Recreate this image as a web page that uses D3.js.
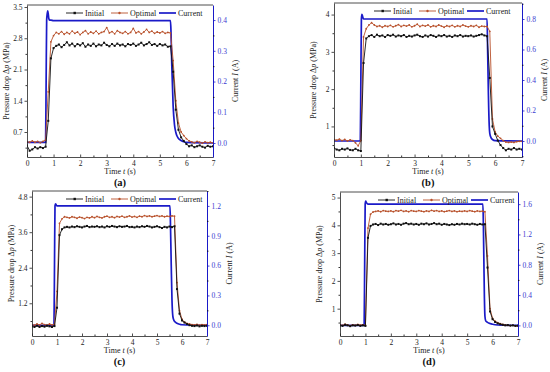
<!DOCTYPE html>
<html><head><meta charset="utf-8">
<script src="https://cdn.jsdelivr.net/npm/d3@7"></script>
<style>html,body{margin:0;padding:0;background:#fff;}svg{display:block;}</style>
</head><body>
<svg id="chart" width="550" height="372"></svg>
<script>
// ---------------- DATA ----------------
const time = [0,0.1,0.2,0.3,0.4,0.5,0.6,0.7,0.8,0.9,1.0,1.1,1.2,1.3,1.4,1.5,1.6,1.7,1.8,1.9,2.0,2.1,2.2,2.3,2.4,2.5,2.6,2.7,2.8,2.9,3.0,3.1,3.2,3.3,3.4,3.5,3.6,3.7,3.8,3.9,4.0,4.1,4.2,4.3,4.4,4.5,4.6,4.7,4.8,4.9,5.0,5.1,5.2,5.3,5.4,5.5,5.6,5.7,5.8,5.9,6.0,6.1,6.2,6.3,6.4,6.5,6.6,6.7,6.8,6.9,7.0];

const initialA = [0.40,0.28,0.31,0.36,0.33,0.36,0.34,0.37,0.95,2.35,
  2.58,2.63,2.66,2.60,2.65,2.71,2.64,2.68,2.62,2.67,
  2.64,2.69,2.61,2.66,2.63,2.68,2.62,2.66,2.64,2.70,
  2.65,2.62,2.67,2.63,2.68,2.64,2.66,2.62,2.67,2.65,
  2.68,2.63,2.66,2.70,2.64,2.67,2.71,2.65,2.67,2.63,
  2.67,2.64,2.66,2.61,2.62,2.05,1.20,0.75,0.58,0.50,
  0.43,0.38,0.40,0.36,0.38,0.40,0.37,0.35,0.39,0.37,0.38];
const optimalA = [0.48,0.47,0.50,0.47,0.49,0.46,0.49,0.52,1.60,2.72,
  2.86,2.93,2.90,2.95,2.89,2.93,2.90,2.96,2.91,2.94,
  2.88,2.93,2.97,2.90,2.94,2.91,2.96,2.90,2.93,2.95,
  3.04,2.92,2.95,2.90,2.97,2.93,2.91,2.95,2.90,2.93,
  3.02,2.92,2.95,2.90,2.94,3.00,2.93,2.96,2.91,2.94,
  2.92,2.95,2.91,2.93,2.92,2.30,1.40,0.90,0.70,0.62,
  0.55,0.50,0.48,0.46,0.49,0.47,0.45,0.48,0.46,0.47,0.45];
const currentTimeA = [0,0.7,0.72,0.74,0.76,0.78,0.8,0.82,0.85,0.9,1.0,5.4,5.42,5.45,5.5,5.55,5.6,5.65,5.7,5.8,5.9,6.0,7.0];
const currentA = [0.002,0.002,0.2,0.4,0.42,0.43,0.42,0.405,0.4,0.4,0.398,0.398,0.36,0.25,0.12,0.06,0.035,0.022,0.015,0.008,0.004,0.002,0.0];

const initialB = [0.42,0.38,0.36,0.40,0.38,0.41,0.37,0.36,0.40,0.36,
  0.34,2.70,3.36,3.42,3.45,3.40,3.46,3.42,3.44,3.40,
  3.45,3.43,3.46,3.41,3.44,3.42,3.45,3.40,3.43,3.41,
  3.44,3.46,3.42,3.40,3.44,3.41,3.45,3.43,3.40,3.44,
  3.42,3.45,3.41,3.43,3.40,3.44,3.42,3.45,3.41,3.43,
  3.42,3.44,3.41,3.43,3.45,3.47,3.44,3.42,2.30,1.00,
  0.80,0.62,0.50,0.42,0.36,0.40,0.38,0.42,0.38,0.40,0.38];
const optimalB = [0.65,0.63,0.66,0.62,0.65,0.61,0.64,0.62,0.56,0.48,
  0.62,3.40,3.62,3.72,3.78,3.72,3.68,3.70,3.66,3.70,
  3.68,3.71,3.67,3.70,3.73,3.68,3.71,3.69,3.72,3.67,
  3.70,3.74,3.68,3.71,3.69,3.72,3.67,3.70,3.68,3.72,
  3.69,3.66,3.70,3.68,3.71,3.67,3.70,3.68,3.72,3.69,
  3.67,3.70,3.68,3.71,3.66,3.69,3.68,3.68,3.55,1.20,
  0.85,0.74,0.68,0.62,0.58,0.57,0.58,0.57,0.59,0.60,0.60];
const currentTimeB = [0,0.98,1.0,1.02,1.04,1.06,1.1,1.2,5.7,5.72,5.75,5.78,5.8,5.85,5.9,6.0,7.0];
const currentB = [0,0,0.4,0.8,0.83,0.82,0.8,0.8,0.8,0.6,0.3,0.1,0.05,0.02,0.01,0.003,0];

const initialC = [0.42,0.40,0.44,0.40,0.43,0.41,0.44,0.42,0.40,0.43,
  1.05,3.50,3.70,3.76,3.78,3.76,3.79,3.77,3.80,3.78,
  3.76,3.79,3.81,3.77,3.79,3.78,3.80,3.77,3.79,3.76,
  3.80,3.78,3.81,3.79,3.77,3.80,3.78,3.79,3.81,3.77,
  3.78,3.76,3.79,3.77,3.80,3.78,3.81,3.79,3.76,3.78,
  3.80,3.77,3.74,3.78,3.76,3.79,3.77,3.80,1.68,0.85,
  0.62,0.55,0.50,0.46,0.44,0.43,0.45,0.42,0.44,0.43,0.44];
const optimalC = [0.48,0.46,0.50,0.47,0.52,0.48,0.46,0.50,0.47,0.49,
  1.60,3.90,4.05,4.12,4.10,4.08,4.12,4.10,4.07,4.11,
  4.09,4.06,4.10,4.08,4.12,4.09,4.13,4.10,4.08,4.12,
  4.14,4.10,4.12,4.09,4.13,4.11,4.14,4.10,4.12,4.15,
  4.11,4.13,4.10,4.14,4.12,4.16,4.13,4.15,4.12,4.14,
  4.16,4.13,4.15,4.12,4.14,4.13,4.15,4.14,1.90,0.95,
  0.66,0.56,0.52,0.50,0.48,0.47,0.49,0.46,0.48,0.47,0.48];
const currentTimeC = [0,0.88,0.9,0.92,0.94,0.97,1.0,5.52,5.54,5.57,5.6,5.63,5.66,5.7,5.8,5.9,6.0,7.0];
const currentC = [0,0,0.6,1.2,1.22,1.21,1.2,1.2,1.0,0.6,0.25,0.1,0.06,0.04,0.02,0.01,0.005,0];

const initialD = [0.40,0.38,0.42,0.40,0.37,0.40,0.39,0.41,0.38,0.40,
  0.38,3.55,3.98,4.03,4.05,4.01,4.06,4.03,4.05,4.02,
  4.04,4.07,4.03,4.05,4.02,4.06,4.08,4.04,4.06,4.03,
  4.05,4.02,4.06,4.04,4.07,4.03,4.05,4.08,4.04,4.06,
  4.02,4.05,4.03,4.01,4.04,4.02,4.05,4.03,4.06,4.04,
  4.05,4.03,4.06,4.04,4.02,4.05,4.03,4.04,2.48,0.90,
  0.62,0.52,0.47,0.44,0.42,0.40,0.41,0.39,0.40,0.38,0.39];
const optimalD = [0.42,0.40,0.44,0.41,0.39,0.42,0.40,0.43,0.41,0.42,
  0.40,3.90,4.40,4.48,4.50,4.52,4.49,4.53,4.51,4.50,
  4.52,4.49,4.53,4.51,4.54,4.50,4.52,4.49,4.53,4.51,
  4.50,4.53,4.51,4.49,4.52,4.50,4.54,4.51,4.53,4.50,
  4.52,4.49,4.51,4.53,4.50,4.52,4.49,4.51,4.50,4.52,
  4.50,4.53,4.51,4.49,4.52,4.50,4.51,4.49,2.90,1.00,
  0.65,0.55,0.50,0.46,0.43,0.41,0.40,0.39,0.40,0.38,0.38];
const currentTimeD = [0,0.95,0.97,0.99,1.01,1.04,1.1,5.62,5.64,5.66,5.68,5.7,5.73,5.8,5.9,6.0,6.2,7.0];
const currentD = [0,0,0.8,1.6,1.64,1.62,1.6,1.6,1.3,0.8,0.35,0.12,0.06,0.04,0.025,0.015,0.005,0];

const xTicks = [0,1,2,3,4,5,6,7];
const leftTicksA = [0.7,1.4,2.1,2.8,3.5];
const leftTicksB = [1,2,3,4];
const leftTicksC = [1.2,2.4,3.6,4.8];
const leftTicksD = [1,2,3,4,5];
const rightTicksA = [0.0,0.1,0.2,0.3,0.4];
const rightTicksB = [0.0,0.2,0.4,0.6,0.8];
const rightTicksC = [0.0,0.3,0.6,0.9,1.2];
const rightTicksD = [0.0,0.4,0.8,1.2,1.6];
const seriesNames = ["Initial","Optimal","Current"];
const panelLabels = ["(a)","(b)","(c)","(d)"];

// ---------------- LAYOUT ----------------
const FONT = "'Liberation Serif','Times New Roman',serif";
const C_INIT = "#111111", C_OPT = "#b8502a", C_CUR = "#1a1ac8", C_AX2 = "#3b3bd0";

const panels = [
  {label:panelLabels[0], left:27, right:213, top:5, bottom:157, yL:[0.14,3.545], yR:[-0.0455,0.449],
   lt:leftTicksA, lf:".1f", rt:rightTicksA, rf:".1f", init:initialA, opt:optimalA, ct:currentTimeA, cv:currentA, legX:66},
  {label:panelLabels[1], left:334, right:522, top:3, bottom:157, yL:[0.18,4.31], yR:[-0.105,0.905],
   lt:leftTicksB, lf:"d", rt:rightTicksB, rf:".1f", init:initialB, opt:optimalB, ct:currentTimeB, cv:currentB, legX:374},
  {label:panelLabels[2], left:32, right:207, top:191, bottom:336, yL:[0.095,4.99], yR:[-0.108,1.35],
   lt:leftTicksC, lf:".1f", rt:rightTicksC, rf:".1f", init:initialC, opt:optimalC, ct:currentTimeC, cv:currentC, legX:66},
  {label:panelLabels[3], left:340, right:518, top:192, bottom:336, yL:[0.016,5.2], yR:[-0.14,1.76],
   lt:leftTicksD, lf:"d", rt:rightTicksD, rf:".1f", init:initialD, opt:optimalD, ct:currentTimeD, cv:currentD, legX:378}
];

const svg = d3.select("#chart");

function mids(arr, lo, hi){
  const out = [];
  const step = arr[1]-arr[0];
  for (let v = arr[0]-step/2; v <= hi + 1e-9; v += step) if (v >= lo - 1e-9) out.push(+v.toFixed(4));
  return out;
}

panels.forEach(p => {
  const g = svg.append("g");
  const x = d3.scaleLinear().domain([0,7]).range([p.left,p.right]);
  const yL = d3.scaleLinear().domain(p.yL).range([p.bottom,p.top]);
  const yR = d3.scaleLinear().domain(p.yR).range([p.bottom,p.top]);

  // frame top
  g.append("line").attr("x1",p.left).attr("x2",p.right).attr("y1",p.top).attr("y2",p.top)
    .attr("stroke","#222").attr("stroke-width",0.8);

  // clip
  const cid = "clip"+p.label.replace(/[()]/g,"");
  svg.append("clipPath").attr("id",cid).append("rect")
    .attr("x",p.left).attr("y",p.top).attr("width",p.right-p.left).attr("height",p.bottom-p.top);
  const plot = g.append("g").attr("clip-path",`url(#${cid})`);

  // current line
  const curData = p.ct.map((t,i)=>[t,p.cv[i]]);
  plot.append("path").datum(curData)
    .attr("d", d3.line().x(d=>x(d[0])).y(d=>yR(d[1])).curve(d3.curveMonotoneX))
    .attr("fill","none").attr("stroke",C_CUR).attr("stroke-width",1.7);

  // optimal
  const optData = time.map((t,i)=>[t,p.opt[i]]);
  plot.append("path").datum(optData)
    .attr("d", d3.line().x(d=>x(d[0])).y(d=>yL(d[1])))
    .attr("fill","none").attr("stroke",C_OPT).attr("stroke-width",0.9);
  plot.selectAll(".om").data(optData).enter().append("circle")
    .attr("cx",d=>x(d[0])).attr("cy",d=>yL(d[1])).attr("r",0.9).attr("fill",C_OPT);

  // initial
  const initData = time.map((t,i)=>[t,p.init[i]]);
  plot.append("path").datum(initData)
    .attr("d", d3.line().x(d=>x(d[0])).y(d=>yL(d[1])))
    .attr("fill","none").attr("stroke",C_INIT).attr("stroke-width",0.9);
  plot.selectAll(".im").data(initData).enter().append("rect")
    .attr("x",d=>x(d[0])-1).attr("y",d=>yL(d[1])-1).attr("width",2).attr("height",2).attr("fill",C_INIT);

  // axes
  const fontSize = 7.5;
  const bx = g.append("g").attr("transform",`translate(0,${p.bottom})`)
    .call(d3.axisBottom(x).tickValues(xTicks).tickFormat(d3.format("d")).tickSizeInner(-2.5).tickSizeOuter(0).tickPadding(4));
  g.append("g").attr("transform",`translate(0,${p.bottom})`)
    .call(d3.axisBottom(x).tickValues([0.5,1.5,2.5,3.5,4.5,5.5,6.5]).tickFormat("").tickSizeInner(-1.5).tickSizeOuter(0))
    .select(".domain").remove();
  const lx = g.append("g").attr("transform",`translate(${p.left},0)`)
    .call(d3.axisLeft(yL).tickValues(p.lt).tickFormat(d3.format(p.lf)).tickSizeInner(2.5).tickSizeOuter(0).tickPadding(2));
  g.append("g").attr("transform",`translate(${p.left},0)`)
    .call(d3.axisLeft(yL).tickValues(mids(p.lt,p.yL[0],p.yL[1])).tickFormat("").tickSizeInner(1.5).tickSizeOuter(0))
    .select(".domain").remove();
  const rx = g.append("g").attr("transform",`translate(${p.right},0)`)
    .call(d3.axisRight(yR).tickValues(p.rt).tickFormat(d3.format(p.rf)).tickSizeInner(2.5).tickSizeOuter(0).tickPadding(2));
  g.append("g").attr("transform",`translate(${p.right},0)`)
    .call(d3.axisRight(yR).tickValues(mids(p.rt,p.yR[0],p.yR[1])).tickFormat("").tickSizeInner(1.5).tickSizeOuter(0))
    .select(".domain").remove();

  [bx,lx].forEach(a => {
    a.selectAll("text").attr("font-family",FONT).attr("font-size",fontSize).attr("fill","#222");
    a.selectAll("line,path").attr("stroke","#222").attr("stroke-width",0.8);
  });
  rx.selectAll("text").attr("font-family",FONT).attr("font-size",fontSize).attr("fill",C_AX2);
  rx.selectAll("line,path").attr("stroke",C_CUR).attr("stroke-width",1);
  g.selectAll("g.tick line").attr("stroke-width",0.8);

  // axis titles
  const cx = (p.left+p.right)/2, cy = (p.top+p.bottom)/2;
  const tx = g.append("text").attr("x",cx).attr("y",p.bottom+17).attr("text-anchor","middle")
    .attr("font-family",FONT).attr("font-size",8).attr("fill","#222");
  tx.append("tspan").text("Time ");
  tx.append("tspan").attr("font-style","italic").text("t");
  tx.append("tspan").text(" (s)");

  const ty = g.append("text").attr("transform",`translate(${p.left-18},${cy}) rotate(-90)`).attr("text-anchor","middle")
    .attr("font-family",FONT).attr("font-size",8).attr("fill","#222");
  ty.append("tspan").text("Pressure drop Δ");
  ty.append("tspan").attr("font-style","italic").text("p");
  ty.append("tspan").text(" (MPa)");

  const tr = g.append("text").attr("transform",`translate(${p.right+25},${cy}) rotate(-90)`).attr("text-anchor","middle")
    .attr("font-family",FONT).attr("font-size",8).attr("fill","#222");
  tr.append("tspan").text("Current ");
  tr.append("tspan").attr("font-style","italic").text("I");
  tr.append("tspan").text(" (A)");

  // legend
  const ly = p.top + 8;
  const lg = g.append("g").attr("transform",`translate(${p.legX},${ly})`);
  const items = [
    {name:seriesNames[0], c:C_INIT, x0:0, w:0.9, m:"sq"},
    {name:seriesNames[1], c:C_OPT, x0:45, w:0.9, m:"ci"},
    {name:seriesNames[2], c:C_CUR, x0:93, w:1.7, m:null}
  ];
  items.forEach(it => {
    lg.append("line").attr("x1",it.x0).attr("x2",it.x0+17).attr("y1",0).attr("y2",0)
      .attr("stroke",it.c).attr("stroke-width",it.w);
    if (it.m==="sq") lg.append("rect").attr("x",it.x0+7.5).attr("y",-1.2).attr("width",2.4).attr("height",2.4).attr("fill",it.c);
    if (it.m==="ci") lg.append("circle").attr("cx",it.x0+8.5).attr("cy",0).attr("r",1.2).attr("fill",it.c);
    lg.append("text").attr("x",it.x0+19).attr("y",2.8).attr("font-family",FONT).attr("font-size",8)
      .attr("fill","#222").text(it.name);
  });

  // panel label
  g.append("text").attr("x",cx).attr("y",p.bottom+29).attr("text-anchor","middle")
    .attr("font-family",FONT).attr("font-size",10.5).attr("font-weight","bold").attr("fill","#111").text(p.label);
});
</script>
</body></html>
